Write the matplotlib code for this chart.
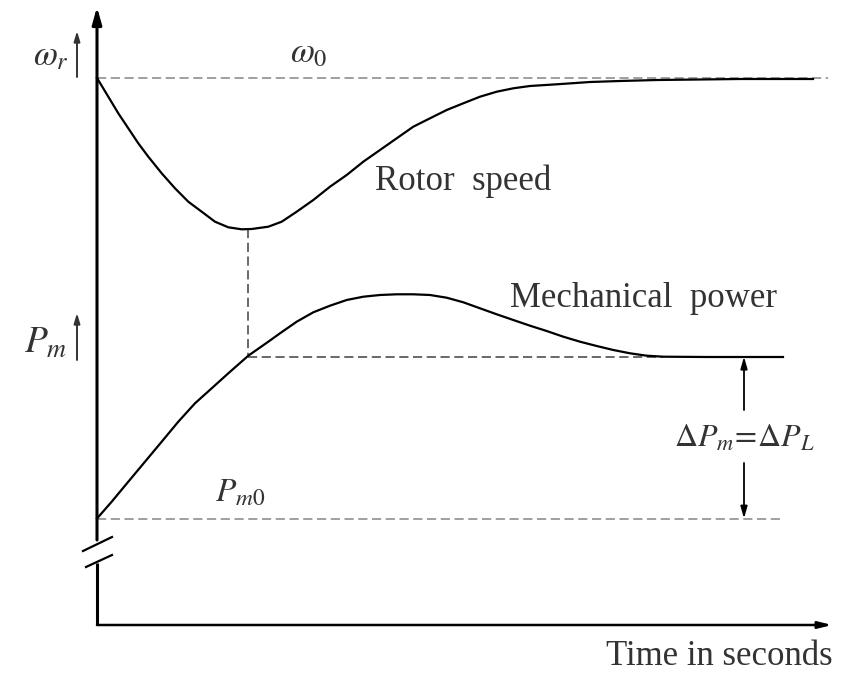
import matplotlib
matplotlib.use("Agg")
import matplotlib.pyplot as plt

# --- Data (schematic units: time along x, level along y) ---
rotor_t = [0.0, 1.13, 2.13, 3.13, 4.13, 5.13, 6.47, 7.8, 9.13, 10.47, 11.8, 13.13,
           14.47, 15.47, 17.13, 18.47, 19.97, 21.63, 23.3, 24.97, 26.63, 28.3,
           29.97, 31.63, 33.3, 34.97, 36.63, 38.3, 39.97, 41.63, 43.3, 45.97,
           49.3, 52.3, 56.0, 60.3, 64.3, 71.6]
rotor_w = [54.7, 52.83, 51.17, 49.67, 48.17, 46.83, 45.17, 43.67, 42.33, 41.33, 40.33, 39.77,
           39.57, 39.6, 39.83, 40.33, 41.33, 42.5, 43.83, 45.0, 46.33, 47.5,
           48.67, 49.83, 50.67, 51.5, 52.17, 52.83, 53.33, 53.67, 53.9, 54.07,
           54.3, 54.4, 54.5, 54.55, 54.6, 54.6]

power_t = [0.0, 1.47, 3.13, 4.8, 6.47, 8.13, 9.8, 11.47, 13.13, 15.13, 17.13, 18.3,
           19.97, 21.63, 23.3, 24.97, 26.63, 28.3, 29.97, 31.63, 33.3, 34.97,
           36.63, 38.3, 39.97, 41.63, 43.3, 44.97, 46.63, 48.3, 49.97, 51.63,
           53.3, 54.97, 56.63, 61.0, 68.6]
power_p = [10.65, 12.33, 14.33, 16.33, 18.33, 20.33, 22.17, 23.67, 25.17, 26.93, 28.33, 29.17,
           30.33, 31.27, 31.93, 32.5, 32.83, 33.0, 33.07, 33.07, 33.0, 32.73,
           32.27, 31.67, 31.07, 30.5, 29.93, 29.4, 28.83, 28.33, 27.9, 27.5,
           27.17, 26.93, 26.83, 26.8, 26.8]

w0 = 54.7          # synchronous speed level
pm0 = 10.65        # initial mechanical power
pm_new = 26.83     # final mechanical power
t_dip = 15.13      # time of speed minimum
w_dip = 39.57      # minimum speed
t_settle = 56.6    # where the power settles
t_end = 73.5       # end of time axis
t_delta = 64.7     # position of the delta-P arrow

plt.rcParams['font.family'] = ['Liberation Serif', 'DejaVu Serif']
plt.rcParams['mathtext.fontset'] = 'stix'

fig = plt.figure(figsize=(8.55, 6.73), dpi=100)
ax = fig.add_axes([0, 0, 1, 1])
ax.set_xlim(-9.7, 75.8)
ax.set_ylim(-4.8, 62.5)
ax.axis('off')

txt = '#333333'
dash_grey = '#858585'

# axes with arrows and a break on the vertical axis
ax.plot([0, 0], [0, 6.2], color='black', lw=2.2, solid_capstyle='butt')
ax.annotate('', xy=(0, 61.8), xytext=(0, 8.5),
            arrowprops=dict(arrowstyle='-|>,head_length=1.0,head_width=0.28',
                            color='black', lw=2.2, shrinkA=0, shrinkB=0))
ax.plot([-1.4, 1.5], [7.4, 8.8], color='black', lw=1.6)
ax.plot([-1.1, 1.5], [5.8, 7.0], color='black', lw=1.6)
ax.annotate('', xy=(t_end, 0), xytext=(0, 0),
            arrowprops=dict(arrowstyle='-|>,head_length=0.8,head_width=0.2',
                            color='black', lw=1.8, shrinkA=0, shrinkB=0))

# reference lines
ax.plot([0, 73.1], [w0, w0], color=dash_grey, lw=1.1, dashes=(6, 3))
ax.plot([0, 68.3], [pm0, pm0], color=dash_grey, lw=1.1, dashes=(6, 3))
ax.plot([t_dip, t_settle], [pm_new, pm_new], color='#404040', lw=1.1, dashes=(6, 3))
ax.plot([t_dip, t_dip], [w_dip, pm_new], color='#404040', lw=1.1, dashes=(6, 3))

# curves
ax.plot(rotor_t, rotor_w, color='black', lw=1.6, solid_joinstyle='round')
ax.plot(power_t, power_p, color='black', lw=1.6, solid_joinstyle='round')

# delta P double arrow
arrow_kw = dict(arrowstyle='-|>,head_length=0.7,head_width=0.2',
                color='black', lw=1.3, shrinkA=0, shrinkB=0)
ax.annotate('', xy=(t_delta, pm_new), xytext=(t_delta, 21.5), arrowprops=arrow_kw)
ax.annotate('', xy=(t_delta, pm0), xytext=(t_delta, 16.2), arrowprops=arrow_kw)

# small label arrows
small_kw = dict(arrowstyle='-|>,head_length=0.6,head_width=0.18',
                color='#333333', lw=1.4, shrinkA=0, shrinkB=0)
ax.annotate('', xy=(-2.0, 59.4), xytext=(-2.0, 54.8), arrowprops=small_kw)
ax.annotate('', xy=(-2.0, 31.2), xytext=(-2.0, 26.5), arrowprops=small_kw)

# labels
ax.text(-2.8, 56.0, r'$\omega_r$', fontsize=25, color=txt, ha='right', va='baseline')
ax.text(19.3, 56.3, r'$\omega_0$', fontsize=25, color=txt, ha='left', va='baseline')
ax.text(-7.3, 27.2, r'$P_m$', fontsize=27, color=txt, ha='left', va='baseline')
ax.text(11.8, 12.3, r'$P_{m\mathit{0}}$', fontsize=24, color=txt, ha='left', va='baseline')
ax.text(27.8, 43.5, 'Rotor  speed', fontsize=25, color=txt, ha='left', va='baseline')
ax.text(41.3, 31.8, 'Mechanical  power', fontsize=25, color=txt, ha='left', va='baseline')
ax.text(t_delta, 17.8, r'$\Delta P_m\!=\!\Delta P_L$', fontsize=23, color=txt,
        ha='center', va='baseline')
ax.text(73.6, -4.0, 'Time in seconds', fontsize=25, color=txt, ha='right', va='baseline')

fig.savefig('out.png', dpi=100)
